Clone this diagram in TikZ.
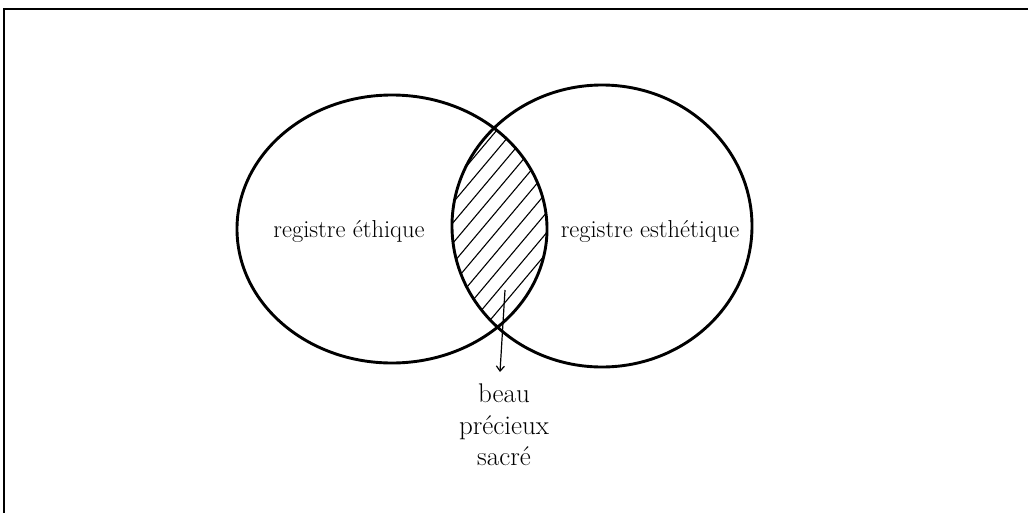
\documentclass[tikz,border=0pt]{standalone}
\usetikzlibrary{shapes.geometric,arrows.meta}
\begin{document}
\begin{tikzpicture}[x=1pt,y=-1pt,
  ring/.style={draw=black,line width=2.9pt,ellipse,inner sep=0pt},
  lbl/.style={font=\fontsize{24.5}{28}\selectfont,inner sep=0pt,anchor=base},
  word/.style={font=\fontsize{27}{31}\selectfont,inner sep=0pt,anchor=base},
  hatch/.style={line width=1.1pt},
  frame/.style={line width=1.4pt}]
\useasboundingbox (0,0) rectangle (1028,512);
\fill[white] (0,0) rectangle (1028,512);
\draw[frame] (4,600) -- (4,9) -- (1100,9);
% hatching in the lens
\begin{scope}
  \clip (392,229) ellipse [x radius=155,y radius=134];
  \clip (602,226) ellipse [x radius=150,y radius=141];
  \foreach \i in {-22,...,8}{
    \draw[hatch] (440+\i*17,400) -- (709+\i*17,80);
  }
\end{scope}
\node[ring,minimum width=310pt,minimum height=268pt] (eth) at (392,229) {};
\node[ring,minimum width=300pt,minimum height=282pt] (est) at (602,226) {};
\node[lbl] (teth) at (349,237) {registre éthique};
\node[lbl] (test) at (650,237) {registre esthétique};
\node[word] (beau) at (504,402) {beau};
\node[word] (prec) at (504,434) {précieux};
\node[word] (sacr) at (504,465) {sacré};
\coordinate (src) at (505,290);
\coordinate (tip) at (500,372);
\draw[line width=1.2pt,-{Straight Barb[length=5pt,width=8pt]}] (src) -- (tip);
\end{tikzpicture}
\end{document}
